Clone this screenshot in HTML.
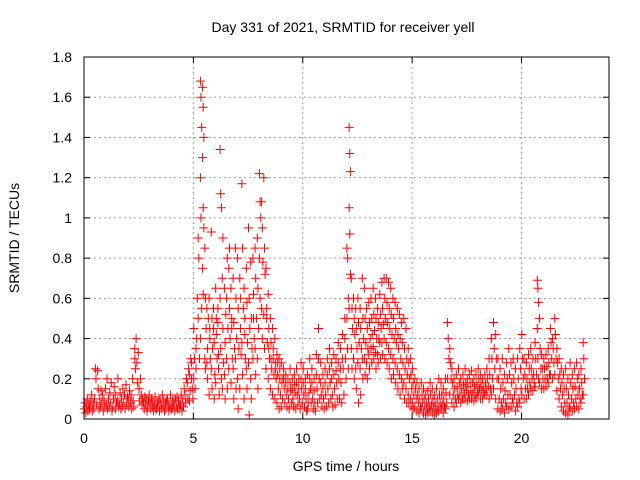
<!DOCTYPE html>
<html><head><meta charset="utf-8"><style>
html,body{margin:0;padding:0;background:#fff;}
svg{display:block;font-family:"Liberation Sans",sans-serif;}
</style></head><body>
<svg id="chart" width="640" height="480">
<text x="343" y="32" font-size="14" text-anchor="middle">Day 331 of 2021, SRMTID for receiver yell</text>
<text x="346" y="471" font-size="14" text-anchor="middle">GPS time / hours</text>
<text transform="translate(19,238) rotate(-90)" font-size="14" text-anchor="middle">SRMTID / TECUs</text>
<g id="grid"></g>
<g id="ticks"></g>
<g id="pts"></g>
<rect x="84" y="57" width="525" height="362" fill="none" stroke="#000" stroke-width="1"/>
</svg>
<script>
const xTicks=[0,5,10,15,20];
const yTicks=[0,0.2,0.4,0.6,0.8,1,1.2,1.4,1.6,1.8];
const yTickLabels=["0","0.2","0.4","0.6","0.8","1","1.2","1.4","1.6","1.8"];
const binStep=0.1;
const binValues=[
[.05,.08,.03],[.06,.1,.04],[.07,.05,.09],[.06,.12,.04],[.08,.05,.1],[.25,.2,.07],[.24,.15,.05],[.1,.06,.14],[.08,.12,.04],[.09,.06,.15],
[.07,.2,.05],[.1,.06,.13],[.08,.18,.04],[.06,.1,.16],[.12,.05,.08],[.09,.2,.06],[.07,.13,.05],[.1,.06,.15],[.08,.12,.05],[.17,.07,.11],
[.1,.06,.14],[.08,.12,.05],[.2,.09,.06],[.35,.25,.4,.3],[.28,.18,.33],[.15,.09,.2],[.12,.07,.1],[.08,.05,.11],[.07,.1,.04],[.06,.09,.12],
[.08,.05,.1],[.06,.09,.04],[.07,.11,.05],[.05,.08,.06],[.09,.04,.1],[.07,.05,.12],[.06,.1,.04],[.08,.05,.09],[.1,.06,.04],[.07,.12,.05],
[.05,.09,.06],[.08,.04,.1],[.06,.11,.05],[.09,.05,.07],[.07,.12,.04],[.1,.06,.15],[.12,.08,.2],[.18,.1,.25],[.22,.14,.3,.09],[.2,.15,.1,.28],
[.2,.3,.15,.45],[.25,.4,.6,.35],[.5,.8,.3,.9],[1.68,1.6,1.45,1.2,1.0,.55,.4],[1.65,1.55,1.4,1.3,1.05,.95,.75,.62],[.85,.6,.45,.3,.25],[.55,.35,.5,.28,.2],[.6,.4,.3,.12,.45],[.93,.5,.35,.25,.15],[.55,.38,.22,.45,.1],
[.65,.42,.3,.18,.5],[.55,.32,.12,.48,.25],[1.34,1.12,1.05,.6,.35,.2],[.7,.45,.28,.15,.9],[.65,.38,.52,.22,.1],[.6,.8,.45,.3,.15],[.75,.55,.4,.25,.85],[.65,.5,.3,.18,.45],[.7,.48,.35,.25,.1],[.85,.6,.4,.3,.15],
[.8,.55,.35,.2,.05],[.7,.45,.32,.15,.6],[1.17,.85,.55,.38,.22],[.65,.5,.3,.1,.42],[.75,.58,.38,.25,.15],[.95,.6,.45,.28,.02],[.78,.5,.35,.2,.1],[.8,.62,.4,.3,.5],[.85,.7,.5,.35,.22],[.9,.65,.45,.3,.15],
[1.22,1.08,1.0,.8,.6],[1.08,.95,.78,.55,.4],[1.2,.85,.72,.52,.35],[.75,.5,.38,.25,.55],[.62,.45,.3,.2,.35],[.5,.38,.25,.15,.3],[.45,.3,.22,.12,.35],[.4,.28,.2,.1,.25],[.32,.22,.15,.08,.28],[.3,.2,.12,.05,.25],
[.28,.18,.1,.06,.2],[.25,.15,.08,.2],[.22,.12,.06,.18],[.2,.1,.05,.15],[.25,.14,.08,.18],[.2,.1,.06,.15],[.22,.13,.05,.17],[.25,.12,.07,.18],[.2,.1,.05,.15],[.28,.15,.08,.2],
[.25,.12,.06,.18],[.2,.1,.04,.15],[.22,.08,.13,.05],[.3,.15,.08,.2],[.25,.1,.05,.18],[.2,.08,.04,.14],[.32,.15,.08,.22],[.45,.2,.1,.3],[.28,.12,.06,.18],[.22,.1,.05,.15],
[.25,.12,.06,.18],[.3,.15,.08,.22],[.35,.18,.1,.25],[.28,.12,.06,.2],[.32,.15,.07,.22],[.3,.18,.1,.24],[.38,.2,.1,.28],[.35,.18,.08,.25],[.42,.25,.12,.3],[.5,.3,.2,.4],
[.85,.8,.6,.5,.35,.25],[1.45,1.32,1.23,1.05,.92,.72,.55],[.7,.55,.45,.35,.25],[.6,.5,.42,.3,.2],[.55,.45,.35,.25,.15],[.6,.48,.38,.28,.08],[.55,.45,.35,.25,.12],[.7,.5,.4,.3,.2],[.65,.5,.38,.3,.22],[.55,.45,.35,.28,.2],
[.58,.48,.4,.32,.25],[.6,.5,.42,.35,.28],[.65,.52,.44,.36,.3],[.6,.5,.4,.33,.25],[.55,.48,.4,.32,.28],[.62,.52,.45,.38,.3],[.68,.55,.47,.38,.32],[.7,.6,.5,.4,.3],[.7,.58,.48,.38,.28],[.68,.55,.45,.35,.25],
[.65,.52,.42,.32,.2],[.6,.5,.4,.3,.22],[.58,.45,.38,.28,.18],[.55,.42,.35,.25,.15],[.52,.4,.3,.22,.12],[.48,.38,.28,.2,.15],[.5,.35,.25,.18,.1],[.45,.3,.22,.15,.08],[.35,.28,.2,.12,.08],[.3,.22,.15,.1,.06],
[.25,.18,.12,.08,.05],[.2,.15,.1,.06],[.18,.12,.08,.04],[.15,.1,.06,.03],[.18,.12,.08,.05],[.15,.1,.06,.03],[.12,.08,.05,.02],[.14,.1,.06,.03],[.18,.12,.07,.04],[.15,.1,.06,.03],
[.12,.08,.05,.02],[.15,.1,.06,.03],[.2,.12,.08,.04],[.18,.12,.07,.05],[.15,.1,.06,.03],[.2,.13,.08,.05],[.48,.4,.3,.2],[.35,.28,.2,.12],[.25,.18,.12,.08],[.2,.15,.1,.06],
[.22,.16,.12,.08],[.25,.18,.12,.1],[.2,.15,.1,.08],[.22,.17,.13,.1],[.25,.18,.14,.1],[.2,.16,.12,.09],[.22,.18,.14,.1],[.24,.18,.13,.1],[.2,.16,.12,.09],[.22,.17,.13,.1],
[.25,.2,.15,.12],[.22,.18,.14,.1],[.2,.16,.13,.1],[.22,.18,.15,.12],[.25,.2,.16,.12],[.3,.22,.15,.1],[.4,.3,.2,.12],[.48,.35,.25,.15],[.42,.3,.2,.1],[.3,.2,.1,.05],
[.25,.15,.08,.04],[.3,.18,.1,.05],[.22,.14,.08,.03],[.28,.2,.12,.06],[.35,.22,.12,.05],[.28,.18,.1,.06],[.3,.2,.12,.08],[.25,.15,.08,.04],[.3,.2,.1,.06],[.35,.25,.15,.08],
[.42,.3,.2,.12],[.3,.22,.15,.1],[.28,.2,.15,.1],[.32,.25,.18,.12],[.35,.25,.2,.15],[.3,.22,.18,.14],[.38,.3,.22,.16],[.69,.65,.58,.45,.3,.2],[.5,.35,.25,.18],[.32,.25,.2,.15],
[.3,.25,.2,.15],[.32,.26,.2,.16],[.35,.28,.22,.18],[.45,.38,.3,.22],[.4,.35,.28,.2],[.5,.42,.3,.22],[.35,.28,.2,.14],[.3,.22,.15,.1],[.25,.18,.12,.06],[.22,.15,.08,.04],
[.25,.15,.08,.03],[.2,.12,.06,.02],[.28,.18,.1,.05],[.22,.15,.08,.04],[.25,.16,.1,.05],[.28,.2,.12,.06],[.22,.15,.1,.05],[.25,.18,.12,.08],[.38,.3,.2,.12]
];
const NS="http://www.w3.org/2000/svg";
const L=84,R=609,T=57,B=419,XMAX=24,YMAX=1.8;
function xs(v){return L+(R-L)*v/XMAX;}
function ys(v){return B-(B-T)*v/YMAX;}
function mk(tag,attrs,parent){const e=document.createElementNS(NS,tag);for(const k in attrs)e.setAttribute(k,attrs[k]);parent.appendChild(e);return e;}
const grid=document.getElementById('grid'),ticks=document.getElementById('ticks'),pts=document.getElementById('pts'),svg=document.getElementById('chart');
yTicks.forEach((v,i)=>{
  const y=ys(v);
  if(i>0&&i<yTicks.length-1){
    const g=mk('line',{x1:L,x2:R,y1:y,y2:y,stroke:'#a0a0a0','stroke-dasharray':'2,3'},grid);
    
    
  }
  const t1=mk('line',{x1:L,x2:L+6,y1:y,y2:y,stroke:'#000'},ticks);
  
  
  const t2=mk('line',{x1:R-6,x2:R,y1:y,y2:y,stroke:'#000'},ticks);
  
  
  const lb=mk('text',{x:72,y:y+5,'font-size':14,'text-anchor':'end'},svg);
  lb.textContent=yTickLabels[i];
  
  
});
xTicks.forEach(v=>{
  const x=xs(v);
  if(v>0){
    const g=mk('line',{x1:x,x2:x,y1:T,y2:B,stroke:'#a0a0a0','stroke-dasharray':'2,3'},grid);
    
    
  }
  const t1=mk('line',{x1:x,x2:x,y1:B-6,y2:B,stroke:'#000'},ticks);
  
  
  const t2=mk('line',{x1:x,x2:x,y1:T,y2:T+6,stroke:'#000'},ticks);
  
  
  const lb=mk('text',{x:x,y:443,'font-size':14,'text-anchor':'middle'},svg);
  lb.textContent=String(v);
  
  
});
let d='';
binValues.forEach((vals,i)=>{
  const t=i*binStep+0.05;
  vals.forEach((v,j)=>{
    const x=xs(t+((j%3)-1)*0.03),y=ys(v);
    d+=`M${(x-4.5).toFixed(1)} ${y.toFixed(1)}h9M${x.toFixed(1)} ${(y-4.5).toFixed(1)}v9`;
  });
});
const p=mk('path',{d:d,stroke:'#ff0000','stroke-width':1,fill:'none'},pts);


</script>
</body></html>
